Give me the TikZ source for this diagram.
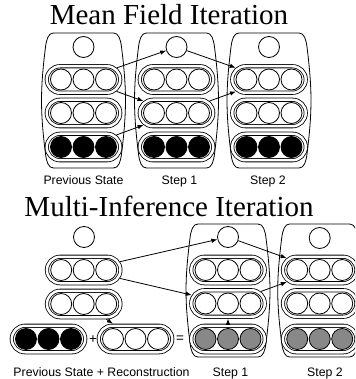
\documentclass[tikz,border=0pt]{standalone}
\usepackage{fontspec}
\usetikzlibrary{shapes.misc,arrows.meta}
\newfontfamily\titlefam{Liberation Serif}
\newfontfamily\labfam{Liberation Sans}
\definecolor{midgray}{RGB}{136,136,136}
\tikzset{
  ln/.style={line width=0.8pt},
  dot/.style={circle, draw, ln, fill=white, minimum size=21pt, inner sep=0pt},
  pill/.style={rounded rectangle, draw, ln, double, double distance=2.5pt,
    minimum width=73.5pt, minimum height=26.5pt, inner sep=0pt, outer sep=2pt},
  arr/.style={ln, -{Latex[length=6pt,width=4.5pt]}},
  ttl/.style={font=\titlefam\fontsize{29}{29}\selectfont, anchor=base, inner sep=0pt},
  lab/.style={font=\labfam\fontsize{12.3}{13}\selectfont, anchor=base, inner sep=0pt},
  sym/.style={font=\labfam\fontsize{13.5}{14}\selectfont, inner sep=0pt},
}
% barrel container: center x, top y, bottom y
\newcommand\barrelshape[3]{%
  \draw[ln] (#1-30,#2) -- (#1+30,#2)
    .. controls (#1+35,#2) and (#1+37,#2+6) .. (#1+38,#2+14)
    .. controls (#1+43.3,#2+56.7) and (#1+43.3,#3-56.7) .. (#1+38,#3-14)
    .. controls (#1+37,#3-6) and (#1+35,#3) .. (#1+30,#3)
    -- (#1-30,#3)
    .. controls (#1-35,#3) and (#1-37,#3-6) .. (#1-38,#3-14)
    .. controls (#1-43.3,#3-56.7) and (#1-43.3,#2+56.7) .. (#1-38,#2+14)
    .. controls (#1-37,#2+6) and (#1-35,#2) .. cycle;}
% pill with three units: name, center x, y, fill colour
\newcommand\pillrow[4]{%
  \node[pill] (#1) at (#2,#3) {};
  \node[dot, fill=#4] (#1a) at (#2-22.5,#3) {};
  \node[dot, fill=#4] (#1b) at (#2,#3) {};
  \node[dot, fill=#4] (#1c) at (#2+22.5,#3) {};}
\begin{document}
\begin{tikzpicture}[x=1pt,y=-1pt]
\useasboundingbox (0,0) rectangle (355,379);
\clip (0,0) rectangle (355,379);

% ---------- Mean Field Iteration ----------
\node[ttl] (t1) at (169,25) {Mean Field Iteration};

\barrelshape{83.5}{33}{168}
\barrelshape{176.5}{33}{168}
\barrelshape{269}{33}{168}

\node[dot] (At) at (83.5,47) {};
\pillrow{Ap}{83.5}{79.5}{white}
\pillrow{Aq}{83.5}{113}{white}
\pillrow{Ar}{83.5}{147}{black}

\node[dot] (Bt) at (176.5,47) {};
\pillrow{Bp}{176.5}{79.5}{white}
\pillrow{Bq}{176.5}{113}{white}
\pillrow{Br}{176.5}{147}{black}

\node[dot] (Ct) at (269,47) {};
\pillrow{Cp}{269}{79.5}{white}
\pillrow{Cq}{269}{113}{white}
\pillrow{Cr}{269}{147}{black}

\draw[arr] (Ap) -- (Bt);
\draw[arr] (Ap) -- (Bq);
\draw[arr] (Ar) -- (Bq);
\draw[arr] (Bt) -- (Cp);
\draw[arr] (Bq) -- (Cp);

\node[lab] (la) at (83.5,184) {Previous State};
\node[lab] (lb) at (179.5,184) {Step 1};
\node[lab] (lc) at (268,184) {Step 2};

% ---------- Multi-Inference Iteration ----------
\node[ttl] (t2) at (169,216.7) {Multi-Inference Iteration};

\barrelshape{228}{224}{357}
\barrelshape{319.7}{224}{357}

\node[dot] (Lt) at (84,237) {};
\pillrow{Lp}{83.7}{270}{white}
\pillrow{Lq}{83.7}{304}{white}

\pillrow{Pb}{48.5}{339}{black}
\node[sym] (plus) at (93,339.5) {+};
\pillrow{Rc}{135.5}{339}{white}
\node[sym] (eq) at (180,339.5) {=};

\node[dot] (St) at (228,237) {};
\pillrow{Sp}{228}{270}{white}
\pillrow{Sq}{228}{303.5}{white}
\pillrow{Sr}{228}{339}{midgray}

\node[dot] (Tt) at (319.7,238) {};
\pillrow{Tp}{319.7}{270}{white}
\pillrow{Tq}{319.7}{303.5}{white}
\pillrow{Tr}{319.7}{339}{midgray}

\draw[arr] (Lp) -- (St);
\draw[arr] (Lp) -- (Sq);
\draw[arr] (Lq) -- (Rc);
\draw[arr] (Sr) -- (Sq);
\draw[arr] (St) -- (Tp);
\draw[arr] (Sq) -- (Tp);

\node[lab] (ld) at (101.5,376.5) {Previous State + Reconstruction};
\node[lab] (le) at (230.5,376.5) {Step 1};
\node[lab] (lf) at (325,376.5) {Step 2};
\end{tikzpicture}
\end{document}
